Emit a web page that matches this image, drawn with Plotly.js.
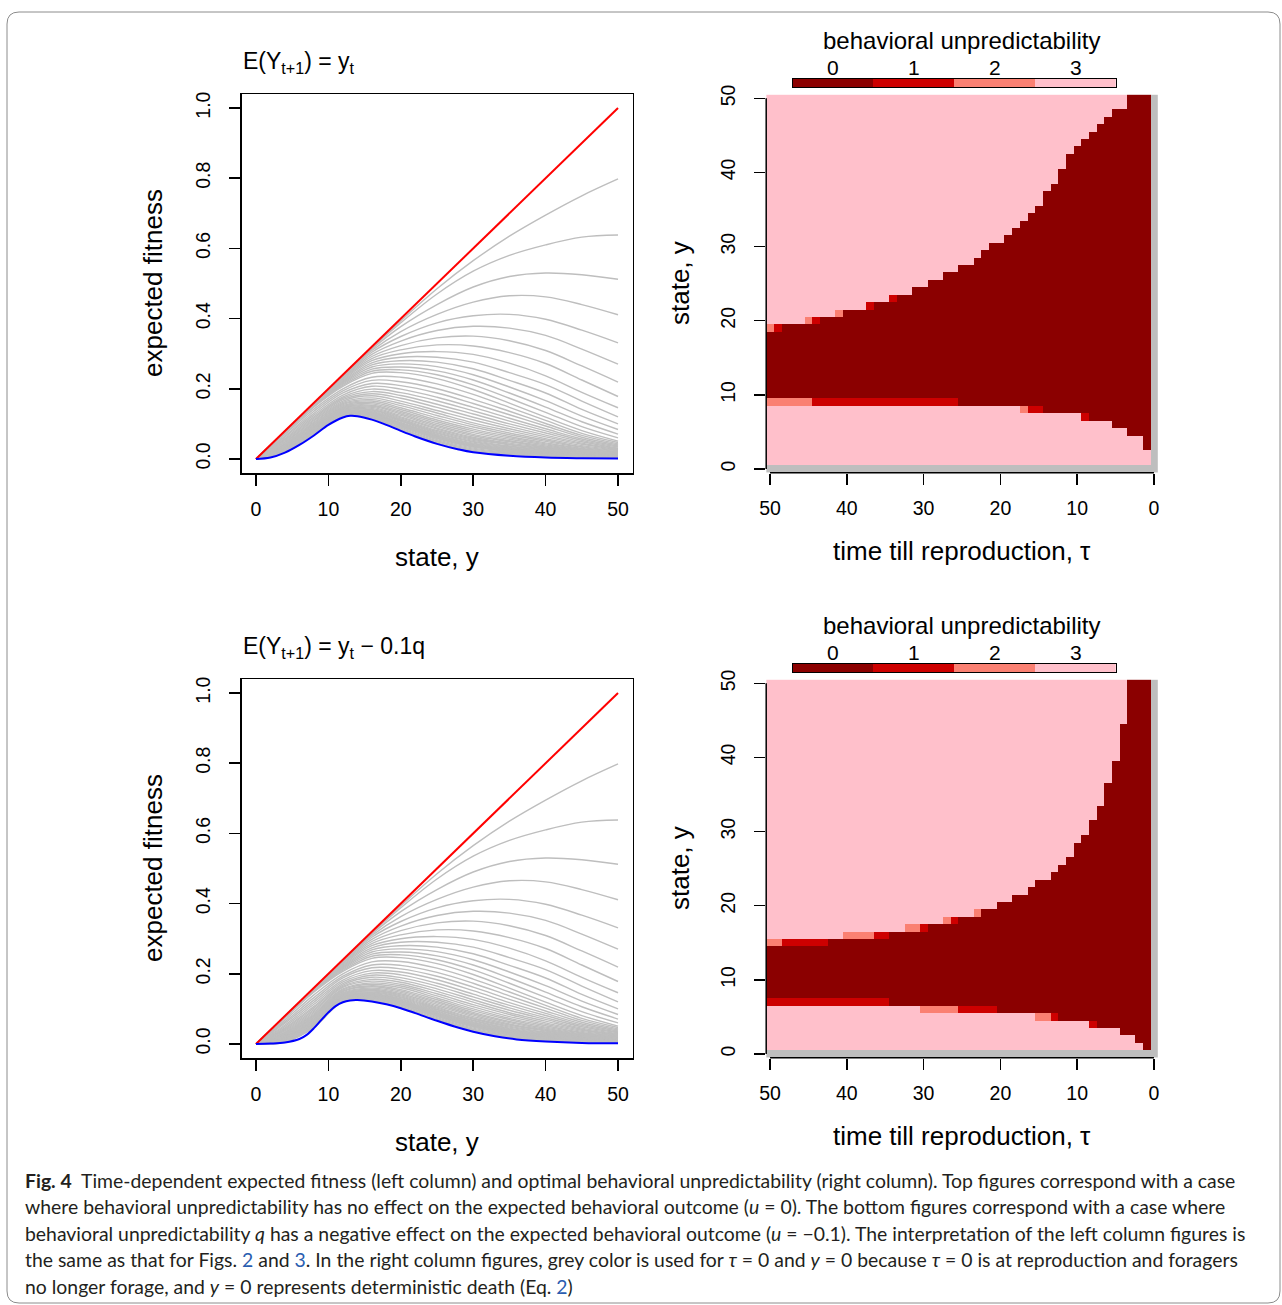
<!DOCTYPE html>
<html><head><meta charset="utf-8">
<script src="https://cdn.plot.ly/plotly-3.0.1.min.js"></script>
<style>html,body{margin:0;padding:0;background:#fff;}#chart{width:1282px;height:1305px;}</style>
</head><body><div id="chart"></div>
<script>
// ---------- left column: expected fitness ----------
const stateGrid = [0, 4, 8, 12, 16, 20, 25, 30, 35, 40, 45, 50];
const redStates = [0, 50];
const redFitness = [0, 1];

// grey curves tau = 1..15 (same in both panels)
const greyUpperFitness = [
  [0,.079,.159,.239,.318,.394,.485,.565,.635,.695,.750,.798],
  [0,.079,.159,.238,.316,.388,.470,.535,.580,.610,.632,.638],
  [0,.079,.158,.237,.313,.377,.440,.490,.520,.530,.525,.512],
  [0,.079,.158,.236,.309,.363,.412,.447,.465,.462,.440,.411],
  [0,.078,.157,.234,.304,.349,.388,.408,.412,.398,.367,.331],
  [0,.078,.157,.232,.298,.336,.366,.378,.373,.352,.313,.270],
  [0,.078,.156,.230,.292,.323,.345,.350,.337,.309,.265,.219],
  [0,.077,.155,.228,.286,.311,.325,.322,.303,.272,.225,.178],
  [0,.077,.154,.225,.280,.300,.306,.298,.273,.237,.190,.146],
  [0,.077,.153,.222,.274,.290,.290,.276,.246,.212,.165,.120],
  [0,.076,.152,.219,.268,.280,.276,.257,.224,.188,.141,.100],
  [0,.076,.151,.216,.262,.271,.263,.240,.205,.166,.122,.084],
  [0,.075,.150,.213,.256,.262,.251,.225,.188,.148,.106,.071],
  [0,.075,.149,.210,.250,.254,.240,.211,.173,.133,.092,.060],
  [0,.074,.148,.207,.244,.246,.229,.198,.159,.119,.081,.051]
];
// grey curves tau = 16..49, top panel
const greyLowerFitnessTop = [
  [0,.070,.142,.200,.233,.233,.214,.184,.147,.110,.073,.047],
  [0,.065,.136,.194,.224,.220,.200,.170,.136,.101,.067,.043],
  [0,.062,.130,.188,.215,.209,.188,.158,.126,.094,.062,.040],
  [0,.058,.125,.182,.207,.199,.176,.147,.116,.086,.057,.037],
  [0,.055,.120,.177,.199,.189,.166,.137,.108,.080,.053,.034],
  [0,.052,.116,.173,.192,.181,.156,.128,.100,.074,.049,.031],
  [0,.049,.112,.169,.186,.173,.147,.119,.093,.068,.045,.029],
  [0,.047,.109,.165,.180,.165,.138,.111,.086,.063,.042,.027],
  [0,.044,.105,.161,.174,.158,.131,.103,.080,.058,.038,.025],
  [0,.042,.102,.158,.169,.152,.124,.097,.074,.054,.035,.023],
  [0,.040,.099,.155,.165,.146,.117,.091,.069,.050,.033,.021],
  [0,.039,.097,.152,.161,.141,.111,.085,.064,.046,.030,.019],
  [0,.037,.094,.149,.157,.136,.106,.080,.060,.043,.028,.018],
  [0,.035,.092,.147,.153,.132,.101,.075,.056,.040,.026,.017],
  [0,.034,.090,.145,.150,.128,.096,.070,.052,.037,.024,.015],
  [0,.033,.088,.143,.147,.124,.092,.066,.049,.034,.022,.014],
  [0,.032,.087,.141,.144,.120,.088,.062,.045,.032,.021,.013],
  [0,.031,.085,.139,.141,.117,.085,.059,.042,.030,.019,.012],
  [0,.030,.084,.138,.139,.114,.081,.056,.040,.028,.018,.011],
  [0,.029,.082,.136,.137,.111,.078,.053,.037,.026,.017,.010],
  [0,.028,.081,.135,.135,.109,.075,.050,.035,.024,.015,.010],
  [0,.027,.080,.134,.133,.107,.073,.048,.033,.022,.014,.009],
  [0,.026,.079,.133,.131,.104,.070,.045,.031,.021,.013,.008],
  [0,.026,.078,.132,.130,.102,.068,.043,.029,.020,.012,.008],
  [0,.025,.077,.131,.128,.101,.066,.041,.028,.018,.012,.007],
  [0,.024,.076,.130,.127,.099,.064,.039,.026,.017,.011,.007],
  [0,.024,.076,.129,.126,.097,.063,.038,.025,.016,.010,.006],
  [0,.023,.075,.128,.125,.096,.061,.036,.024,.015,.010,.006],
  [0,.023,.074,.128,.124,.095,.060,.035,.022,.014,.009,.006],
  [0,.023,.074,.127,.123,.094,.058,.034,.021,.013,.008,.005],
  [0,.022,.073,.126,.121,.091,.055,.031,.019,.012,.007,.004],
  [0,.021,.071,.125,.119,.088,.052,.028,.017,.010,.006,.004],
  [0,.020,.070,.123,.117,.085,.049,.025,.015,.008,.005,.003],
  [0,.019,.069,.122,.115,.083,.046,.022,.013,.007,.004,.003]
];
// grey curves tau = 16..49, bottom panel
const greyLowerFitnessBottom = [
  [0,.068,.140,.200,.234,.235,.216,.185,.148,.110,.073,.047],
  [0,.063,.132,.193,.225,.224,.204,.173,.137,.102,.067,.043],
  [0,.059,.125,.188,.217,.214,.193,.162,.127,.094,.062,.040],
  [0,.054,.119,.182,.209,.205,.183,.152,.118,.087,.057,.037],
  [0,.050,.113,.177,.202,.197,.173,.142,.110,.081,.053,.034],
  [0,.046,.107,.172,.196,.189,.165,.134,.103,.075,.049,.032],
  [0,.043,.103,.168,.190,.182,.157,.126,.096,.070,.045,.029],
  [0,.040,.098,.164,.184,.176,.150,.119,.089,.065,.042,.027],
  [0,.037,.094,.161,.179,.170,.143,.112,.084,.060,.039,.025],
  [0,.034,.090,.157,.174,.165,.137,.106,.078,.056,.036,.023],
  [0,.032,.086,.154,.170,.160,.131,.100,.073,.052,.033,.022],
  [0,.030,.083,.151,.166,.155,.126,.095,.069,.048,.031,.020],
  [0,.028,.080,.149,.163,.151,.121,.090,.064,.045,.029,.019],
  [0,.026,.077,.146,.159,.147,.117,.086,.061,.042,.027,.017],
  [0,.024,.075,.144,.156,.143,.113,.082,.057,.039,.025,.016],
  [0,.022,.072,.142,.153,.140,.109,.078,.054,.037,.023,.015],
  [0,.021,.070,.140,.151,.137,.105,.074,.051,.034,.021,.014],
  [0,.020,.068,.139,.148,.134,.102,.071,.048,.032,.020,.013],
  [0,.018,.066,.137,.146,.132,.099,.068,.045,.030,.019,.012],
  [0,.017,.065,.136,.144,.129,.097,.066,.043,.028,.017,.011],
  [0,.016,.063,.134,.142,.127,.094,.063,.041,.027,.016,.011],
  [0,.015,.062,.133,.141,.125,.092,.061,.039,.025,.015,.010],
  [0,.014,.060,.132,.139,.123,.090,.059,.037,.024,.014,.009],
  [0,.013,.059,.131,.138,.121,.088,.057,.035,.022,.013,.009],
  [0,.013,.058,.130,.136,.120,.086,.055,.034,.021,.012,.008],
  [0,.012,.057,.129,.135,.118,.085,.054,.032,.020,.012,.008],
  [0,.011,.056,.128,.134,.117,.083,.052,.031,.019,.011,.007],
  [0,.011,.055,.128,.133,.116,.082,.051,.030,.018,.010,.007],
  [0,.010,.054,.127,.132,.115,.080,.050,.029,.017,.010,.006],
  [0,.009,.053,.126,.131,.113,.078,.048,.027,.016,.009,.006],
  [0,.008,.051,.124,.129,.111,.075,.045,.025,.014,.008,.005],
  [0,.007,.049,.123,.127,.108,.072,.042,.022,.012,.006,.004],
  [0,.006,.048,.122,.125,.106,.070,.040,.020,.010,.005,.003],
  [0,.005,.047,.121,.123,.104,.068,.038,.018,.009,.004,.003]
];
const blueStatesTop = [0,2,4,6,8,10,12,13,14,16,18,20,22,25,28,30,35,40,45,50];
const blueFitnessTop = [0,.004,.018,.040,.067,.097,.118,.123,.122,.112,.097,.080,.064,.043,.027,.019,.009,.004,.002,.001];
const blueStatesBottom = [0,2,4,6,7,8,9,10,11,12,13,14,16,18,20,22,25,28,30,33,36,40,45,50];
const blueFitnessBottom = [0,.001,.004,.014,.026,.045,.068,.090,.108,.119,.124,.125,.121,.113,.102,.088,.066,.046,.035,.022,.013,.007,.003,.002];

// ---------- right column: optimal behavioral unpredictability ----------
// index = tau (0..50); tau = 0 and state 0 are grey (no decision)
const tauValues = Array.from({length: 51}, (_, i) => i);
const stateValues = Array.from({length: 51}, (_, i) => i);
const darkTopTop = [null,50,50,50,48,48,47,46,45,44,43,42,40,38,37,35,34,33,32,31,30,30,29,28,27,27,26,26,25,25,24,24,23,23,22,22,22,21,21,21,21,20,20,20,19,19,19,19,19,18,18];
const aboveCodeTop = [null,3,3,3,3,3,3,3,3,3,3,3,3,3,3,3,3,3,3,3,3,3,3,3,3,3,3,3,3,3,3,3,3,3,1,3,3,1,3,3,3,2,3,3,1,2,3,3,3,1,2];
const darkBottomTop = [null,3,5,5,6,6,7,7,7,8,8,8,8,8,8,9,9,9,9,9,9,9,9,9,9,9,10,10,10,10,10,10,10,10,10,10,10,10,10,10,10,10,10,10,10,10,10,10,10,10,10];
const belowCodeTop = [null,3,3,3,3,3,3,3,3,1,3,3,3,3,3,1,1,2,3,3,3,3,3,3,3,3,1,1,1,1,1,1,1,1,1,1,1,1,1,1,1,1,1,1,1,2,2,2,2,2,2];
const darkTopBottom = [null,50,50,50,44,39,36,33,31,29,28,26,25,24,23,23,22,21,21,20,20,19,19,18,18,18,17,17,17,17,16,16,16,16,16,15,15,15,15,15,15,15,15,14,14,14,14,14,14,14,14];
const aboveCodeBottom = [null,3,3,3,3,3,3,3,3,3,3,3,3,3,3,3,3,3,3,3,3,3,3,2,3,3,1,2,3,3,1,2,2,3,3,1,1,2,2,2,2,3,3,1,1,1,1,1,1,2,2];
const darkBottomBottom = [null,1,2,3,3,4,4,4,5,5,5,5,5,6,6,6,6,6,6,6,6,7,7,7,7,7,7,7,7,7,7,7,7,7,7,8,8,8,8,8,8,8,8,8,8,8,8,8,8,8,8];
const belowCodeBottom = [null,3,3,3,3,3,3,3,1,3,3,3,3,1,2,2,3,3,3,3,3,1,1,1,1,1,2,2,2,2,2,3,3,3,3,1,1,1,1,1,1,1,1,1,1,1,1,1,1,1,1];
const levelLabels = ['0', '1', '2', '3'];
const levelValues = [0, 1, 2, 3];
const levelColors = ['#8B0000', '#CD0000', '#FA8072', '#FFC0CB'];
const noDecisionColor = '#BEBEBE';

// ---------- helpers ----------
const W = 1282, H = 1305;
const px = x => x / W;
const py = y => 1 - y / H;
const FONT = 'Liberation Sans, Arial, sans-serif';

function buildGrid(top, above, bottom, below) {
  return stateValues.map(s => tauValues.map(t => {
    if (s === 0 || t === 0) return 4;
    if (s >= bottom[t] && s <= top[t]) return 0;
    if (s === top[t] + 1) return above[t];
    if (s === bottom[t] - 1) return below[t];
    return 3;
  }));
}
const colorscale = [
  [0, levelColors[0]], [0.125, levelColors[0]],
  [0.125, levelColors[1]], [0.375, levelColors[1]],
  [0.375, levelColors[2]], [0.625, levelColors[2]],
  [0.625, levelColors[3]], [0.875, levelColors[3]],
  [0.875, noDecisionColor], [1, noDecisionColor]
];

const traces = [];
function addFitness(xa, ya, lower, blueX, blueY) {
  greyUpperFitness.concat(lower).forEach(row => traces.push({
    type: 'scatter', mode: 'lines', x: stateGrid, y: row, xaxis: xa, yaxis: ya,
    line: {color: '#BEBEBE', width: 1.4, shape: 'spline', smoothing: 1},
    hoverinfo: 'skip', showlegend: false
  }));
  traces.push({type: 'scatter', mode: 'lines', x: redStates, y: redFitness, xaxis: xa, yaxis: ya,
    line: {color: '#FF0000', width: 2}, hoverinfo: 'skip', showlegend: false});
  traces.push({type: 'scatter', mode: 'lines', x: blueX, y: blueY, xaxis: xa, yaxis: ya,
    line: {color: '#0000FF', width: 2, shape: 'spline', smoothing: 1}, hoverinfo: 'skip', showlegend: false});
}
addFitness('x', 'y', greyLowerFitnessTop, blueStatesTop, blueFitnessTop);
addFitness('x3', 'y3', greyLowerFitnessBottom, blueStatesBottom, blueFitnessBottom);

traces.push({type: 'heatmap', x: tauValues, y: stateValues,
  z: buildGrid(darkTopTop, aboveCodeTop, darkBottomTop, belowCodeTop),
  zmin: 0, zmax: 4, colorscale: colorscale, showscale: false, xaxis: 'x2', yaxis: 'y2', hoverinfo: 'skip'});
traces.push({type: 'heatmap', x: tauValues, y: stateValues,
  z: buildGrid(darkTopBottom, aboveCodeBottom, darkBottomBottom, belowCodeBottom),
  zmin: 0, zmax: 4, colorscale: colorscale, showscale: false, xaxis: 'x4', yaxis: 'y4', hoverinfo: 'skip'});
traces.push({type: 'heatmap', x: levelValues, y: [0], z: [levelValues],
  zmin: 0, zmax: 4, colorscale: colorscale, showscale: false, xaxis: 'x5', yaxis: 'y5', hoverinfo: 'skip'});
traces.push({type: 'heatmap', x: levelValues, y: [0], z: [levelValues],
  zmin: 0, zmax: 4, colorscale: colorscale, showscale: false, xaxis: 'x6', yaxis: 'y6', hoverinfo: 'skip'});

const tickFont = {family: FONT, size: 19.5, color: '#000'};
function fitX(anchor) {
  return {domain: [px(241.5), px(632.5)], range: [-2, 52], anchor: anchor,
    tickvals: [0, 10, 20, 30, 40, 50], ticks: 'outside', ticklen: 11, tickwidth: 1.5, tickcolor: '#000',
    showline: true, mirror: true, linewidth: 1.5, linecolor: '#000',
    showgrid: false, zeroline: false, tickfont: tickFont, ticklabelstandoff: 7};
}
function fitY(anchor, top, bottom) {
  return {domain: [py(bottom), py(top)], range: [-0.04, 1.04], anchor: anchor,
    tickvals: [0, 0.2, 0.4, 0.6, 0.8, 1.0], ticktext: ['0.0', '0.2', '0.4', '0.6', '0.8', '1.0'],
    tickangle: -90, ticks: 'outside', ticklen: 11, tickwidth: 1.5, tickcolor: '#000',
    showline: true, mirror: true, linewidth: 1.5, linecolor: '#000',
    showgrid: false, zeroline: false, tickfont: tickFont, ticklabelstandoff: 11};
}
function mapX(anchor) {
  return {domain: [px(766.2), px(1157.8)], range: [50.5, -0.5], anchor: anchor,
    tickvals: [0, 10, 20, 30, 40, 50], ticks: 'outside', ticklen: 11, tickwidth: 1.5, tickcolor: '#000',
    showline: false, showgrid: false, zeroline: false, tickfont: tickFont, ticklabelstandoff: 7};
}
function mapY(anchor, top, bottom) {
  return {domain: [py(bottom), py(top)], range: [-0.5, 50.5], anchor: anchor,
    tickvals: [0, 10, 20, 30, 40, 50], tickangle: -90, ticks: 'outside', ticklen: 11, tickwidth: 1.5, tickcolor: '#000',
    showline: false, showgrid: false, zeroline: false, tickfont: tickFont, ticklabelstandoff: 11};
}
function keyX(anchor) {
  return {domain: [px(792.7), px(1116)], range: [-0.5, 3.5], anchor: anchor, showticklabels: false,
    ticks: '', showline: true, mirror: true, linewidth: 1.2, linecolor: '#000', showgrid: false, zeroline: false};
}
function keyY(anchor, top, bottom) {
  return {domain: [py(bottom), py(top)], range: [-0.5, 0.5], anchor: anchor, showticklabels: false,
    ticks: '', showline: true, mirror: true, linewidth: 1.2, linecolor: '#000', showgrid: false, zeroline: false};
}

const ann = [];
function text(t, x, y, size, opts) {
  ann.push(Object.assign({text: t, x: px(x), y: py(y), xref: 'paper', yref: 'paper', showarrow: false,
    xanchor: 'center', yanchor: 'middle', font: {family: FONT, size: size, color: '#000'}}, opts || {}));
}
[0, 585].forEach((dy, i) => {
  text(i === 0 ? 'E(Y<sub>t+1</sub>) = y<sub>t</sub>' : 'E(Y<sub>t+1</sub>) = y<sub>t</sub> − 0.1q',
    241, 62 + dy, 23, {xanchor: 'left'});
  text('expected fitness', 153, 283 + dy, 26, {textangle: -90});
  text('state, y', 437, 557 + dy, 26);
  text('state, y', 680, 283 + dy, 26, {textangle: -90});
  text('time till reproduction, τ', 962, 551 + dy, 26);
  text('behavioral unpredictability', 962, 40 + dy, 24);
  levelLabels.forEach((lab, k) => ann.push({text: lab, x: levelValues[k], xref: i === 0 ? 'x5' : 'x6',
    y: py(67.7 + dy), yref: 'paper', showarrow: false, xanchor: 'center', yanchor: 'middle',
    font: {family: FONT, size: 21, color: '#000'}}));
});
const capFont = 'Lato, Liberation Sans, sans-serif';
const link = s => '<span style="color:#2a5db0">' + s + '</span>';
const captionLines = [
  '<b>Fig. 4</b>  Time-dependent expected fitness (left column) and optimal behavioral unpredictability (right column). Top figures correspond with a case',
  'where behavioral unpredictability has no effect on the expected behavioral outcome (<i>u</i> = 0). The bottom figures correspond with a case where',
  'behavioral unpredictability <i>q</i> has a negative effect on the expected behavioral outcome (<i>u</i> = −0.1). The interpretation of the left column figures is',
  'the same as that for Figs. ' + link('2') + ' and ' + link('3') + '. In the right column figures, grey color is used for <i>τ</i> = 0 and <i>y</i> = 0 because <i>τ</i> = 0 is at reproduction and foragers',
  'no longer forage, and <i>y</i> = 0 represents deterministic death (Eq. ' + link('2') + ')'
];
const captionY = [1180, 1206.5, 1233, 1259.5, 1286];
captionLines.forEach((t, k) => ann.push({text: t, x: px(23), y: py(captionY[k]), xref: 'paper', yref: 'paper',
  showarrow: false, xanchor: 'left', yanchor: 'middle', font: {family: capFont, size: 19.4, color: '#231F20'}}));

// frame with rounded corners
function framePath(x0, y0, x1, y1, r) {
  const P = (x, y) => px(x) + ',' + py(y);
  return 'M' + P(x0 + r, y0) + ' L' + P(x1 - r, y0) + ' Q' + P(x1, y0) + ' ' + P(x1, y0 + r) +
    ' L' + P(x1, y1 - r) + ' Q' + P(x1, y1) + ' ' + P(x1 - r, y1) +
    ' L' + P(x0 + r, y1) + ' Q' + P(x0, y1) + ' ' + P(x0, y1 - r) +
    ' L' + P(x0, y0 + r) + ' Q' + P(x0, y0) + ' ' + P(x0 + r, y0) + ' Z';
}
const shapes = [
  {type: 'path', xref: 'paper', yref: 'paper', path: framePath(7, 12, 1280, 1303, 12), line: {color: '#8c8c8c', width: 1}},
  {type: 'line', xref: 'x2', yref: 'y2 domain', x0: 50, x1: 0, y0: 0, y1: 0, line: {color: '#000', width: 1.5}},
  {type: 'line', xref: 'x2 domain', yref: 'y2', x0: 0, x1: 0, y0: 0, y1: 50, line: {color: '#000', width: 1.5}},
  {type: 'line', xref: 'x4', yref: 'y4 domain', x0: 50, x1: 0, y0: 0, y1: 0, line: {color: '#000', width: 1.5}},
  {type: 'line', xref: 'x4 domain', yref: 'y4', x0: 0, x1: 0, y0: 0, y1: 50, line: {color: '#000', width: 1.5}}
];

const layout = {
  width: W, height: H, autosize: false, margin: {l: 0, r: 0, t: 0, b: 0},
  paper_bgcolor: '#fff', plot_bgcolor: 'rgba(0,0,0,0)', showlegend: false,
  font: {family: FONT, color: '#000'},
  xaxis: fitX('y'), yaxis: fitY('x', 94, 473),
  xaxis2: mapX('y2'), yaxis2: mapY('x2', 94.6, 472.7),
  xaxis3: fitX('y3'), yaxis3: fitY('x3', 679, 1058),
  xaxis4: mapX('y4'), yaxis4: mapY('x4', 679.6, 1057.7),
  xaxis5: keyX('y5'), yaxis5: keyY('x5', 79, 87),
  xaxis6: keyX('y6'), yaxis6: keyY('x6', 664, 672),
  annotations: ann, shapes: shapes
};
Plotly.newPlot('chart', traces, layout, {staticPlot: true, displayModeBar: false});
</script></body></html>
